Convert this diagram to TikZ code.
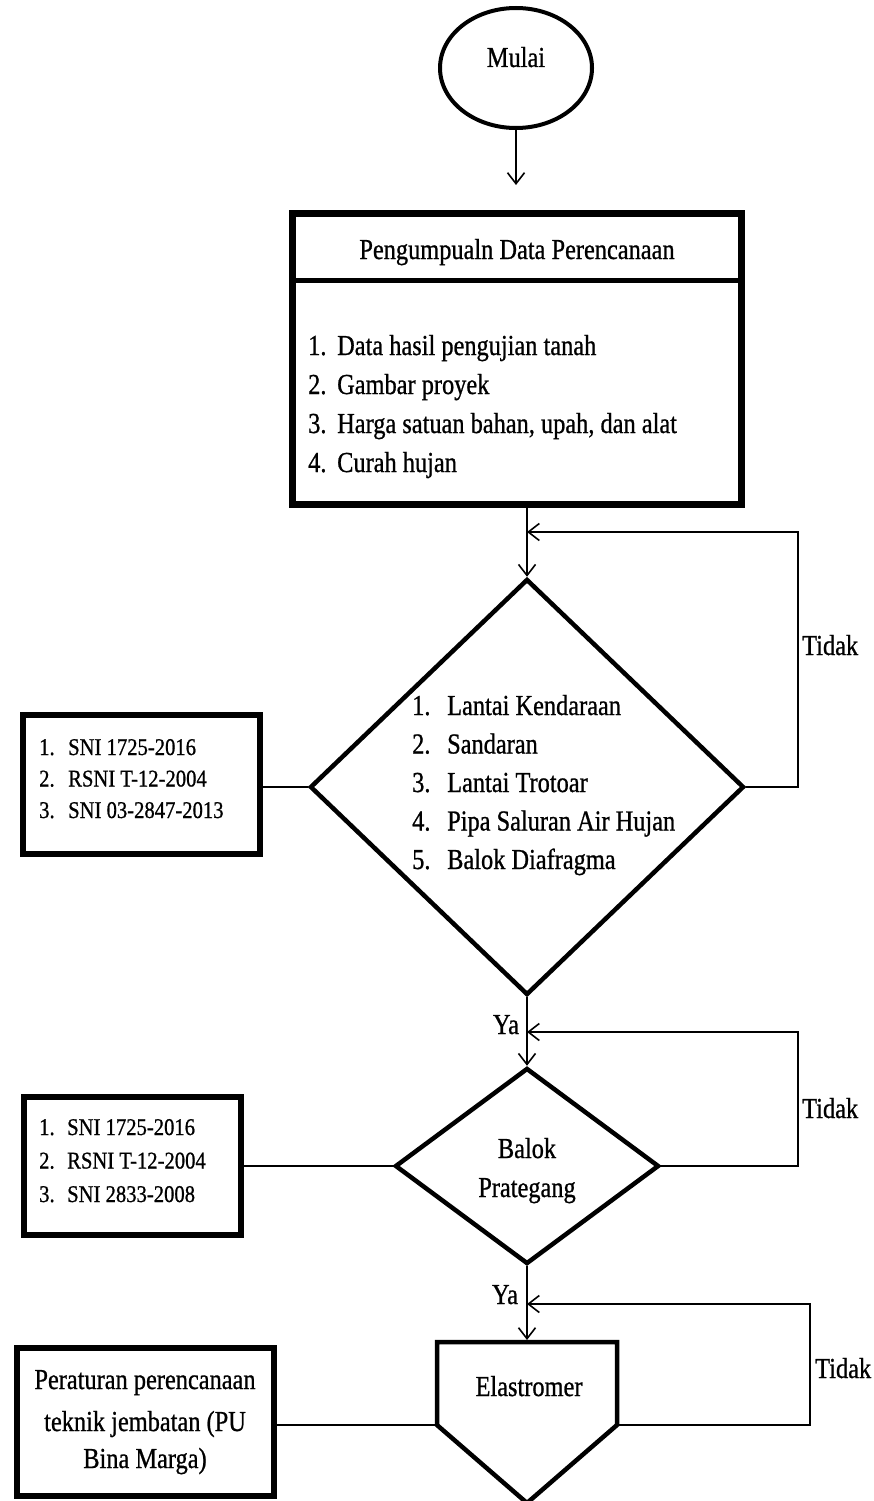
\documentclass[tikz,border=0pt]{standalone}
\usepackage{fontspec}
\setmainfont{Liberation Serif}[FakeStretch=0.84,FakeBold=0.8]
\newfontfamily\smallfnt{Liberation Serif}[FakeStretch=0.86,FakeBold=0.8]
\usetikzlibrary{arrows.meta,shapes.geometric}
\begin{document}
\begin{tikzpicture}[x=1pt,y=-1pt,
  txt/.style={font=\fontsize{29}{38}\selectfont, inner sep=0pt, anchor=base west},
  txtc/.style={font=\fontsize{29}{38}\selectfont, inner sep=0pt, anchor=base},
  sm/.style={font=\smallfnt\fontsize{24}{32}\selectfont, inner sep=0pt, anchor=base west},
  conn/.style={line width=1.6pt},
  arr/.style={conn, -{Straight Barb[length=11pt,width=17pt]}},
  bigbox/.style={draw, line width=7pt, rectangle, inner sep=0pt},
  sidebox/.style={draw, line width=6pt, rectangle, inner sep=0pt},
  dec/.style={draw, diamond, line width=4.5pt, inner sep=0pt}]
\useasboundingbox (0,0) rectangle (874,1501);
\fill[white] (0,0) rectangle (874,1501);

% Start
\node[draw, ellipse, line width=4pt, minimum width=152pt, minimum height=120pt, inner sep=0pt] (mulai) at (516,68) {};
\node[txtc] (mulaitxt) at (516,67) {Mulai};
\coordinate (mend) at (516,185);
\draw[arr] (mulai.south) -- (mend);

% Data box
\node[bigbox, minimum width=449pt, minimum height=291pt] (b1) at (517,359) {};
\draw[line width=5pt] ([yshift=-70pt]b1.north west) -- ([yshift=-70pt]b1.north east);
\node[txtc] (b1head) at (517,259) {Pengumpualn Data Perencanaan};
\foreach \t [count=\i] in {Data hasil pengujian tanah, Gambar proyek, {Harga satuan bahan, upah, dan alat}, Curah hujan}{
  \node[txt] (b1n\i) at (308,{355+39*(\i-1)}) {\i.};
  \node[txt] (b1t\i) at (337,{355+39*(\i-1)}) {\t};
}

% Decision 1
\node[dec, minimum width=434pt, minimum height=416pt] (d1) at (527,787) {};
\foreach \t [count=\i] in {Lantai Kendaraan, Sandaran, Lantai Trotoar, Pipa Saluran Air Hujan, Balok Diafragma}{
  \node[txt] (d1n\i) at (412,{715+38.5*(\i-1)}) {\i.};
  \node[txt] (d1t\i) at (447,{715+38.5*(\i-1)}) {\t};
}
\draw[arr] (d1.north |- b1.south) -- (d1.north);
\coordinate (l1a) at (527,532);
\draw[arr] (d1.east) -- (798,787) |- (l1a);
\node[txt] (tidak1) at (802,655) {Tidak};

% Side box 1
\node[sidebox, minimum width=237pt, minimum height=139pt] (s1) at (141.5,784.5) {};
\foreach \t [count=\i] in {SNI 1725-2016, RSNI T-12-2004, SNI 03-2847-2013}{
  \node[sm] (s1n\i) at (39,{755+31.5*(\i-1)}) {\i.};
  \node[sm] (s1t\i) at (68,{755+31.5*(\i-1)}) {\t};
}
\draw[conn] (d1.west) -- (d1.west -| s1.east);

% Decision 2
\node[dec, minimum width=264pt, minimum height=196pt] (d2) at (527,1166) {};
\node[txtc] (d2a) at (527,1158) {Balok};
\node[txtc] (d2b) at (527,1197) {Prategang};
\draw[arr] (d1.south) -- (d2.north);
\node[txtc] (ya1) at (506,1034) {Ya};
\coordinate (l2a) at (527,1032);
\draw[arr] (d2.east) -- (798,1166) |- (l2a);
\node[txt] (tidak2) at (802,1118) {Tidak};

% Side box 2
\node[sidebox, minimum width=217pt, minimum height=138pt] (s2) at (132.5,1166) {};
\foreach \t [count=\i] in {SNI 1725-2016, RSNI T-12-2004, SNI 2833-2008}{
  \node[sm] (s2n\i) at (39,{1135+33.5*(\i-1)}) {\i.};
  \node[sm] (s2t\i) at (67,{1135+33.5*(\i-1)}) {\t};
}
\draw[conn] (d2.west) -- (d2.west -| s2.east);

% Elastomer shape
\coordinate (eTL) at (437,1342);
\coordinate (eTR) at (617,1342);
\coordinate (eR) at (617,1425);
\coordinate (eB) at (527,1503);
\coordinate (eL) at (437,1425);
\coordinate (eTop) at (527,1340);
\draw[line width=4.5pt, line join=miter] (eTL) -- (eTR) -- (eR) -- (eB) -- (eL) -- cycle;
\node[txtc] (elast) at (529,1396) {Elastromer};
\draw[arr] (d2.south) -- (eTop);
\node[txtc] (ya2) at (505,1304) {Ya};
\coordinate (l3a) at (527,1304);
\draw[arr] (eR) -- (810,1425) |- (l3a);
\node[txt] (tidak3) at (815,1378) {Tidak};

% Side box 3
\node[sidebox, minimum width=257pt, minimum height=148pt] (s3) at (145.5,1422) {};
\node[txtc] (s3a) at (145,1389) {Peraturan perencanaan};
\node[txtc] (s3b) at (145,1431) {teknik jembatan (PU};
\node[txtc] (s3c) at (145,1468) {Bina Marga)};
\draw[conn] (eL) -- (eL -| s3.east);
\end{tikzpicture}
\end{document}
